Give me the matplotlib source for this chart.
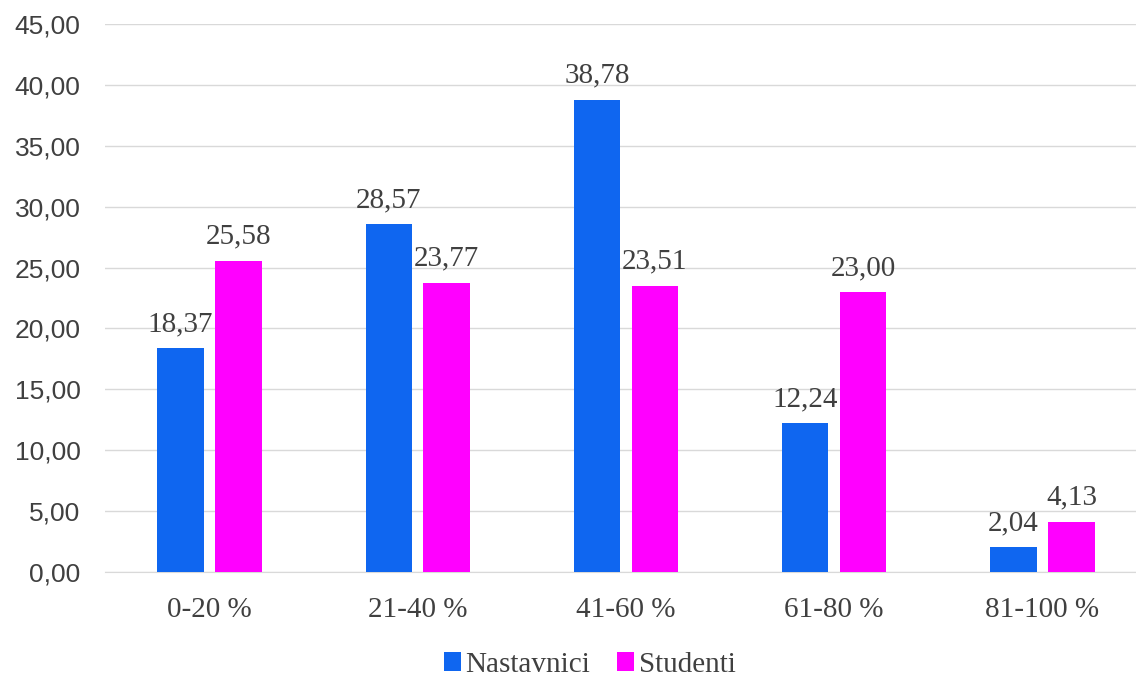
import numpy as np
import matplotlib
matplotlib.use("Agg")
import matplotlib.pyplot as plt

categories = ["0-20 %", "21-40 %", "41-60 %", "61-80 %", "81-100 %"]
nastavnici = [18.37, 28.57, 38.78, 12.24, 2.04]
studenti = [25.58, 23.77, 23.51, 23.00, 4.13]
series_names = ["Nastavnici", "Studenti"]

blue = "#0F66F0"
magenta = "#FF00FF"
text_col = "#404040"
serif = "Liberation Serif"

fig = plt.figure(figsize=(11.36, 6.84), dpi=100)
# plot area runs a bit past the right edge, like in the original screenshot
ax = fig.add_axes([0.0928, 0.1637, 0.9165, 0.8012])

x = np.arange(len(categories))
w = 0.223
off = 0.139
b1 = ax.bar(x - off, nastavnici, w, color=blue, label=series_names[0], zorder=3)
b2 = ax.bar(x + off, studenti, w, color=magenta, label=series_names[1], zorder=3)

def fmt(v):
    return ("%.2f" % v).replace(".", ",")

for bars, vals in ((b1, nastavnici), (b2, studenti)):
    for b, v in zip(bars, vals):
        ax.text(b.get_x() + b.get_width() / 2, v + 0.9, fmt(v),
                ha="center", va="bottom", fontsize=21, family=serif, color=text_col)

ax.set_xlim(-0.5, len(categories) - 0.5)
ax.set_ylim(0, 45)
ax.set_yticks(np.arange(0, 46, 5))
ax.set_yticklabels([fmt(t) for t in np.arange(0, 46, 5)], fontsize=19,
                   family="Liberation Sans", color=text_col)
ax.set_xticks(x)
ax.set_xticklabels(categories, fontsize=21, family=serif, color=text_col)
ax.tick_params(axis="both", length=0)
ax.tick_params(axis="x", pad=18)
ax.tick_params(axis="y", pad=18)

ax.grid(axis="y", color="#d9d9d9", linewidth=1, zorder=0)
for s in ["top", "right", "left"]:
    ax.spines[s].set_visible(False)
ax.spines["bottom"].set_color("#d9d9d9")

leg = fig.legend(handles=[b1, b2], labels=series_names, loc="center",
                 bbox_to_anchor=(0.519, 0.028), ncol=2, frameon=False,
                 prop={"family": serif, "size": 21}, handlelength=0.6, handleheight=0.6,
                 handletextpad=0.15, columnspacing=0.9)
for t in leg.get_texts():
    t.set_color(text_col)

fig.savefig("out.png", dpi=100)
